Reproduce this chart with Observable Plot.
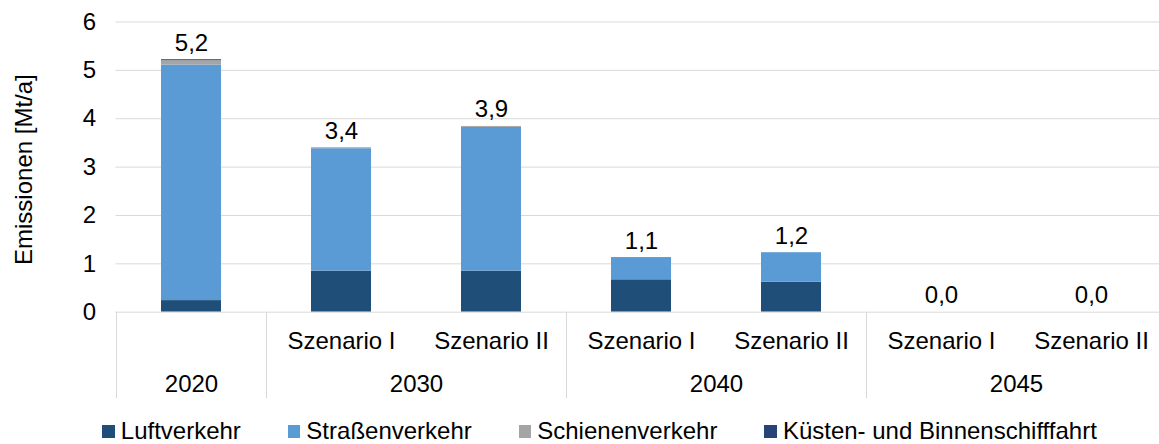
<!DOCTYPE html>
<html>
<head>
<meta charset="utf-8">
<script src="https://cdn.jsdelivr.net/npm/d3@7"></script>
<script src="https://cdn.jsdelivr.net/npm/@observablehq/plot@0.6"></script>
<style>
  html, body { margin: 0; padding: 0; background: #fff; overflow: hidden; }
  body { width: 1159px; height: 444px; font-family: "Liberation Sans", Arial, sans-serif; font-variant-ligatures: none; }
  svg text { font-variant-ligatures: none; }
  #legend { display: flex; align-items: center; margin-top: 14.4px; padding-left: 102.3px;
    font-size: 24px; line-height: 24px; color: #000; white-space: nowrap; }
  #legend .item { display: flex; align-items: center; margin-right: 47px; }
  #legend .sw { width: 12.5px; height: 12.5px; margin-right: 6px; display: inline-block; }
</style>
</head>
<body>
<div id="chart"></div>
<div id="legend"></div>
<script>
// ---- data ----
const years     = ["2020", "2030", "2030", "2040", "2040", "2045", "2045"];
const scenarios = ["", "Szenario I", "Szenario II", "Szenario I", "Szenario II", "Szenario I", "Szenario II"];
const seriesNames = ["Luftverkehr", "Straßenverkehr", "Schienenverkehr", "Küsten- und Binnenschifffahrt"];
const luftverkehr   = [0.24, 0.85, 0.85, 0.67, 0.62, 0, 0];
const strassen      = [4.87, 2.53, 2.97, 0.46, 0.61, 0, 0];
const schienen      = [0.09, 0.02, 0.02, 0, 0, 0, 0];
const kuesten       = [0.02, 0, 0, 0, 0, 0, 0];
const totalLabels   = ["5,2", "3,4", "3,9", "1,1", "1,2", "0,0", "0,0"];
const seriesColors  = ["#1f4e79", "#5b9bd5", "#a5a5a5", "#264478"];
const yTicks        = [0, 1, 2, 3, 4, 5, 6];

// ---- derived tables ----
const keys = years.map((y, i) => y + "|" + scenarios[i]);
const seriesValues = [luftverkehr, strassen, schienen, kuesten];
const long = [];
seriesNames.forEach((s, si) => keys.forEach((k, i) => long.push({key: k, series: s, value: seriesValues[si][i]})));
const totals = keys.map((k, i) => ({key: k, total: seriesValues.reduce((a, arr) => a + arr[i], 0), label: totalLabels[i]}));
const cats = keys.map((k, i) => ({key: k, scenario: scenarios[i]}));
const groups = [];
years.forEach((y, i) => {
  const g = groups.find(d => d.year === y);
  if (g) g.count++; else groups.push({year: y, key: keys[i], count: 1});
});

const W = 1159, H = 405;
const xRange = [115.5, 1165.5];
const step = (xRange[1] - xRange[0]) / keys.length;
const font = "'Liberation Sans', Arial, sans-serif";
const fs = 24;
const grid = "#d9d9d9";

const plot = Plot.plot({
  width: W,
  height: H,
  marginTop: 21.5,
  marginBottom: H - 311.7,
  marginLeft: 115.5,
  marginRight: 0,
  style: {fontFamily: font, fontSize: fs + "px", color: "#000", background: "#fff", overflow: "visible"},
  x: {domain: keys, range: xRange, paddingInner: 0.6, paddingOuter: 0.3, axis: null},
  y: {domain: [0, 6], axis: null},
  color: {domain: seriesNames, range: seriesColors},
  marks: [
    Plot.gridY(yTicks.filter(d => d > 0), {stroke: grid, strokeOpacity: 1, strokeWidth: 1}),
    Plot.axisY(yTicks, {tickSize: 0, tickPadding: 20, fontSize: fs, tickFormat: d => String(d), label: null, fill: "#000"}),
    Plot.text(["Emissionen [Mt/a]"], {frameAnchor: "left", textAnchor: "middle", lineAnchor: "middle", rotate: -90, dx: -92, dy: 2.5, fontSize: fs, fill: "#000"}),
    Plot.barY(long, {x: "key", y: "value", fill: "series"}),
    Plot.ruleY([0], {stroke: grid, strokeWidth: 1}),
    Plot.ruleX(groups, {x: "key", y1: 0, y2: -1.79, dx: -step / 2, stroke: grid, strokeWidth: 1}),
    Plot.text(totals, {x: "key", y: "total", text: "label", lineAnchor: "bottom", dy: -9, fontSize: fs, fill: "#000"}),
    Plot.text(cats, {x: "key", y: 0, text: "scenario", dy: 29.5, fontSize: fs, fill: "#000"}),
    Plot.text(groups.filter(g => g.count === 1), {x: "key", y: 0, text: "year", dy: 72.5, fontSize: fs, fill: "#000"}),
    Plot.text(groups.filter(g => g.count === 2), {x: "key", y: 0, text: "year", dy: 72.5, dx: step / 2, fontSize: fs, fill: "#000"})
  ]
});
document.getElementById("chart").appendChild(plot);

const legend = document.getElementById("legend");
seriesNames.forEach((s, i) => {
  const item = document.createElement("span");
  item.className = "item";
  const sw = document.createElement("span");
  sw.className = "sw";
  sw.style.background = seriesColors[i];
  item.appendChild(sw);
  item.appendChild(document.createTextNode(s));
  legend.appendChild(item);
});
</script>
</body>
</html>
